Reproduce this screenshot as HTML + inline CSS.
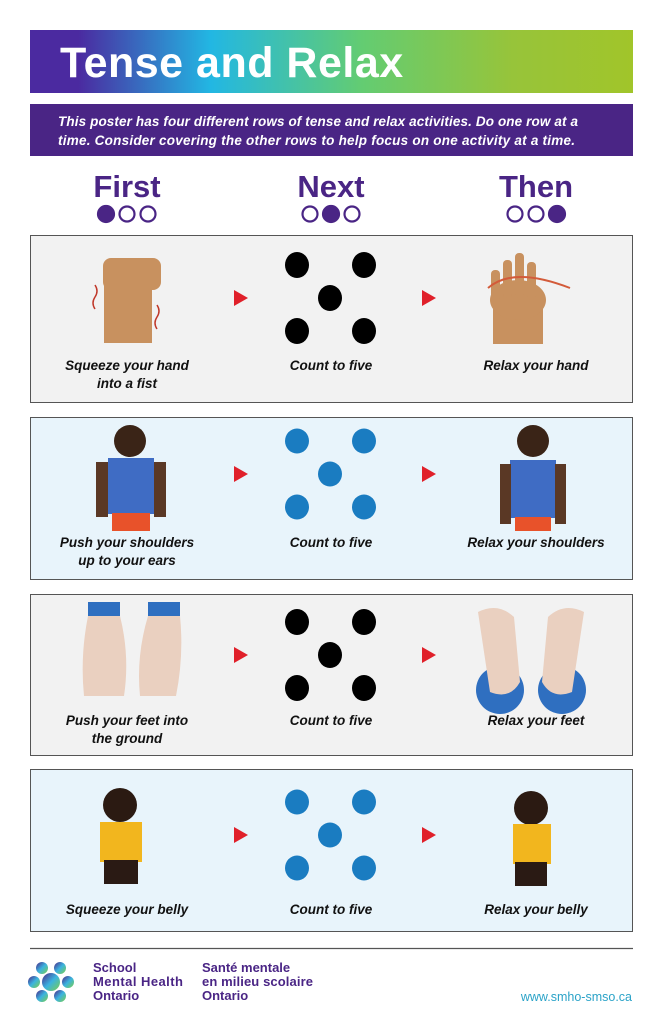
<!DOCTYPE html>
<html><head><meta charset="utf-8"><style>
html,body{margin:0;padding:0;background:#fff}
svg{display:block}
text{font-family:"Liberation Sans",sans-serif}
.lab{font-size:13.5px;font-style:italic;font-weight:bold;fill:#111;text-anchor:middle}
.h{font-size:31px;font-weight:bold;fill:#4a2585;text-anchor:middle}
</style></head><body>
<svg width="663" height="1024" viewBox="0 0 663 1024">
<defs>
<linearGradient id="g" x1="0" x2="1" y1="0" y2="0">
<stop offset="0" stop-color="#4b2aa0"/><stop offset="0.08" stop-color="#4b2aa0"/><stop offset="0.3" stop-color="#22b7e3"/><stop offset="0.55" stop-color="#63cc72"/><stop offset="0.8" stop-color="#97c43a"/><stop offset="1" stop-color="#a1c52a"/>
</linearGradient>
<linearGradient id="lg" x1="0" x2="1" y1="0" y2="1"><stop offset="0" stop-color="#4a2585"/><stop offset="0.5" stop-color="#3bb3e0"/><stop offset="1" stop-color="#7ccf4a"/></linearGradient>
<g id="tri"><polygon points="-6,-8 8,0 -6,8" fill="#e0202a"/></g>
</defs>
<rect x="30" y="30" width="603" height="63" fill="url(#g)"/>
<text x="60" y="77" font-size="43" font-weight="bold" fill="#fff" letter-spacing="0.5">Tense and Relax</text>
<rect x="30" y="104" width="603" height="52" fill="#4a2585"/>
<text x="58" y="126" font-size="13.5" font-style="italic" font-weight="bold" fill="#fff" textLength="520">This poster has four different rows of tense and relax activities. Do one row at a</text>
<text x="58" y="145" font-size="13.5" font-style="italic" font-weight="bold" fill="#fff" textLength="517">time. Consider covering the other rows to help focus on one activity at a time.</text>
<text class="h" x="127" y="197">First</text>
<text class="h" x="331" y="197">Next</text>
<text class="h" x="536" y="197">Then</text>
<g fill="none" stroke="#4a2585" stroke-width="2.2">
<circle cx="106" cy="214" r="8" fill="#4a2585"/><circle cx="127" cy="214" r="7.5"/><circle cx="148" cy="214" r="7.5"/>
<circle cx="310" cy="214" r="7.5"/><circle cx="331" cy="214" r="8" fill="#4a2585"/><circle cx="352" cy="214" r="7.5"/>
<circle cx="515" cy="214" r="7.5"/><circle cx="536" cy="214" r="7.5"/><circle cx="557" cy="214" r="8" fill="#4a2585"/>
</g>

<rect x="30.5" y="235.5" width="602" height="167" fill="#f2f2f2" stroke="#555"/>
<rect x="30.5" y="417.5" width="602" height="162" fill="#e8f4fb" stroke="#555"/>
<rect x="30.5" y="594.5" width="602" height="161" fill="#f2f2f2" stroke="#555"/>
<rect x="30.5" y="769.5" width="602" height="162" fill="#e8f4fb" stroke="#555"/>

<g fill="#000">
<ellipse cx="297" cy="265" rx="12" ry="13"/><ellipse cx="364" cy="265" rx="12" ry="13"/><ellipse cx="330" cy="298" rx="12" ry="13"/><ellipse cx="297" cy="331" rx="12" ry="13"/><ellipse cx="364" cy="331" rx="12" ry="13"/>
<ellipse cx="297" cy="622" rx="12" ry="13"/><ellipse cx="364" cy="622" rx="12" ry="13"/><ellipse cx="330" cy="655" rx="12" ry="13"/><ellipse cx="297" cy="688" rx="12" ry="13"/><ellipse cx="364" cy="688" rx="12" ry="13"/>
</g>
<g fill="#1a7cc1">
<ellipse cx="297" cy="441" rx="12" ry="12.5"/><ellipse cx="364" cy="441" rx="12" ry="12.5"/><ellipse cx="330" cy="474" rx="12" ry="12.5"/><ellipse cx="297" cy="507" rx="12" ry="12.5"/><ellipse cx="364" cy="507" rx="12" ry="12.5"/>
<ellipse cx="297" cy="802" rx="12" ry="12.5"/><ellipse cx="364" cy="802" rx="12" ry="12.5"/><ellipse cx="330" cy="835" rx="12" ry="12.5"/><ellipse cx="297" cy="868" rx="12" ry="12.5"/><ellipse cx="364" cy="868" rx="12" ry="12.5"/>
</g>
<use href="#tri" x="240" y="298"/><use href="#tri" x="428" y="298"/>
<use href="#tri" x="240" y="474"/><use href="#tri" x="428" y="474"/>
<use href="#tri" x="240" y="655"/><use href="#tri" x="428" y="655"/>
<use href="#tri" x="240" y="835"/><use href="#tri" x="428" y="835"/>

<g fill="#c8915f">
<rect x="103" y="258" width="58" height="32" rx="8"/><rect x="104" y="285" width="48" height="58"/>
<rect x="493" y="300" width="50" height="44"/><ellipse cx="518" cy="300" rx="28" ry="20"/>
<rect x="503" y="260" width="9" height="38" rx="4"/><rect x="515" y="253" width="9" height="45" rx="4"/><rect x="527" y="262" width="9" height="38" rx="4"/><rect x="491" y="270" width="9" height="32" rx="4"/>
</g>
<path d="M95 285 q4 6 0 12 q-4 6 0 12 M157 305 q4 6 0 12 q-4 6 0 12" stroke="#c0392b" fill="none" stroke-width="1.5"/>
<path d="M488 288 q25 -22 82 0" stroke="#d35b3a" fill="none" stroke-width="2"/>

<g>
<circle cx="130" cy="441" r="16" fill="#3a2417"/><circle cx="533" cy="441" r="16" fill="#3a2417"/>
<rect x="108" y="458" width="46" height="56" fill="#3f6cc4"/><rect x="112" y="513" width="38" height="18" fill="#e8522a"/>
<rect x="510" y="460" width="46" height="58" fill="#3f6cc4"/><rect x="515" y="517" width="36" height="14" fill="#e8522a"/>
<rect x="96" y="462" width="12" height="55" fill="#5a3825"/><rect x="154" y="462" width="12" height="55" fill="#5a3825"/>
<rect x="500" y="464" width="11" height="60" fill="#5a3825"/><rect x="555" y="464" width="11" height="60" fill="#5a3825"/>
</g>

<g>
<rect x="88" y="602" width="32" height="14" fill="#2f6fc0"/><rect x="148" y="602" width="32" height="14" fill="#2f6fc0"/>
<path d="M88 616 h32 q10 40 4 80 h-40 q-4 -40 4 -80z" fill="#ead0c0"/>
<path d="M148 616 h32 q4 40 -4 80 h-36 q-4 -40 8 -80z" fill="#ead0c0"/>
<circle cx="500" cy="690" r="24" fill="#2f6fc0"/><circle cx="562" cy="690" r="24" fill="#2f6fc0"/>
<path d="M478 612 q20 -10 36 5 l6 65 q-10 18 -30 10 z" fill="#ead0c0"/>
<path d="M584 612 q-20 -10 -36 5 l-6 65 q10 18 30 10 z" fill="#ead0c0"/>
</g>

<g>
<circle cx="120" cy="805" r="17" fill="#2b1a12"/><circle cx="531" cy="808" r="17" fill="#2b1a12"/>
<rect x="100" y="822" width="42" height="40" fill="#f2b61e"/><rect x="104" y="860" width="34" height="24" fill="#2a1a14"/>
<rect x="513" y="824" width="38" height="40" fill="#f2b61e"/><rect x="515" y="862" width="32" height="24" fill="#2a1a14"/>
</g>

<text class="lab" x="127" y="370">Squeeze your hand</text><text class="lab" x="127" y="388">into a fist</text>
<text class="lab" x="331" y="370">Count to five</text>
<text class="lab" x="536" y="370">Relax your hand</text>
<text class="lab" x="127" y="547">Push your shoulders</text><text class="lab" x="127" y="565">up to your ears</text>
<text class="lab" x="331" y="547">Count to five</text>
<text class="lab" x="536" y="547">Relax your shoulders</text>
<text class="lab" x="127" y="725">Push your feet into</text><text class="lab" x="127" y="743">the ground</text>
<text class="lab" x="331" y="725">Count to five</text>
<text class="lab" x="536" y="725">Relax your feet</text>
<text class="lab" x="127" y="914">Squeeze your belly</text>
<text class="lab" x="331" y="914">Count to five</text>
<text class="lab" x="536" y="914">Relax your belly</text>

<line x1="30" y1="948.5" x2="633" y2="948.5" stroke="#555" stroke-width="1.2"/>
<g fill="url(#lg)">
<circle cx="51" cy="982" r="9"/><circle cx="42" cy="968" r="6"/><circle cx="60" cy="968" r="6"/><circle cx="34" cy="982" r="6"/><circle cx="68" cy="982" r="6"/><circle cx="42" cy="996" r="6"/><circle cx="60" cy="996" r="6"/>
</g>
<g font-size="13" font-weight="bold" fill="#4a2585">
<text x="93" y="972">School</text><text x="93" y="986" textLength="90">Mental Health</text><text x="93" y="1000">Ontario</text>
<text x="202" y="972">Santé mentale</text><text x="202" y="986" textLength="111">en milieu scolaire</text><text x="202" y="1000">Ontario</text>
</g>
<text x="632" y="1001" font-size="12.5" fill="#2ba3c8" text-anchor="end">www.smho-smso.ca</text>
</svg>
</body></html>
